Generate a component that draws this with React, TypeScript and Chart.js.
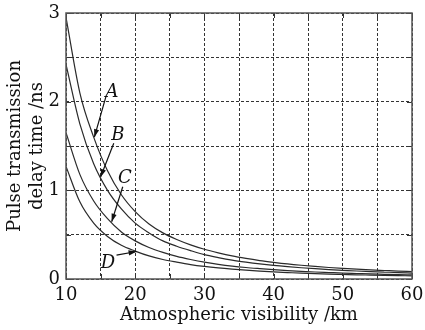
import React, { useEffect, useRef } from 'react';
import { Chart, registerables } from 'chart.js';
Chart.register(...registerables);

const visibility = [10, 12, 14, 16, 18, 20, 22, 24, 26, 28, 30, 32, 34, 36, 38, 40, 42, 44, 46, 48, 50, 52, 54, 56, 58, 60];
const curveA = [2.95, 2.10, 1.60, 1.22, 0.95, 0.76, 0.62, 0.52, 0.445, 0.385, 0.335, 0.295, 0.26, 0.232, 0.208, 0.188, 0.17, 0.155, 0.142, 0.13, 0.12, 0.111, 0.103, 0.096, 0.089, 0.083];
const curveB = [2.42, 1.75, 1.30, 1.00, 0.79, 0.63, 0.52, 0.43, 0.37, 0.32, 0.275, 0.242, 0.213, 0.19, 0.17, 0.153, 0.139, 0.127, 0.116, 0.106, 0.098, 0.09, 0.084, 0.078, 0.072, 0.067];
const curveC = [1.65, 1.18, 0.88, 0.68, 0.53, 0.43, 0.355, 0.30, 0.255, 0.22, 0.19, 0.166, 0.146, 0.13, 0.117, 0.105, 0.095, 0.087, 0.079, 0.073, 0.067, 0.062, 0.057, 0.053, 0.049, 0.046];
const curveD = [1.27, 0.87, 0.63, 0.48, 0.38, 0.315, 0.26, 0.22, 0.19, 0.163, 0.142, 0.125, 0.111, 0.099, 0.089, 0.08, 0.073, 0.066, 0.06, 0.055, 0.051, 0.047, 0.044, 0.041, 0.038, 0.035];

const curveNames = ['A', 'B', 'C', 'D'];
const labelAt = [[16.65, 2.11], [17.5, 1.62], [18.5, 1.14], [16.07, 0.18]];
const arrowFrom = [[15.78, 2.06], [16.9, 1.53], [18.2, 1.04], [17.3, 0.27]];
const arrowTo = [[14.1, 1.6], [15.0, 1.15], [16.6, 0.646], [20.2, 0.31]];

const xTickLabels = [10, 20, 30, 40, 50, 60];
const yTickLabels = [0, 1, 2, 3];

const FONT = '"DejaVu Serif", serif';

const framePlugin = {
  id: 'frameAndNotes',
  afterDraw(chart: any) {
    const { ctx, chartArea: a, scales } = chart;
    const xs = scales.x;
    const ys = scales.y;
    ctx.save();
    ctx.strokeStyle = '#333';
    ctx.lineWidth = 1;
    ctx.setLineDash([]);
    for (let v = 10; v <= 60; v += 5) {
      const px = Math.round(xs.getPixelForValue(v)) + 0.5;
      ctx.beginPath();
      ctx.moveTo(px, a.bottom);
      ctx.lineTo(px, a.bottom - 5);
      ctx.moveTo(px, a.top);
      ctx.lineTo(px, a.top + 5);
      ctx.stroke();
    }
    for (let v = 0; v <= 3.001; v += 0.5) {
      const py = Math.round(ys.getPixelForValue(v)) + 0.5;
      ctx.beginPath();
      ctx.moveTo(a.left, py);
      ctx.lineTo(a.left + 5, py);
      ctx.moveTo(a.right, py);
      ctx.lineTo(a.right - 5, py);
      ctx.stroke();
    }
    ctx.strokeStyle = '#555';
    ctx.lineWidth = 1.5;
    ctx.strokeRect(a.left, a.top, a.right - a.left, a.bottom - a.top);

    ctx.fillStyle = '#111';
    ctx.strokeStyle = '#111';
    ctx.lineWidth = 1.2;
    ctx.font = 'italic 18px ' + FONT;
    ctx.textAlign = 'center';
    ctx.textBaseline = 'middle';
    curveNames.forEach((n, i) => {
      const lx = xs.getPixelForValue(labelAt[i][0]);
      const ly = ys.getPixelForValue(labelAt[i][1]);
      ctx.fillText(n, lx, ly);
      const x1 = xs.getPixelForValue(arrowFrom[i][0]);
      const y1 = ys.getPixelForValue(arrowFrom[i][1]);
      const x2 = xs.getPixelForValue(arrowTo[i][0]);
      const y2 = ys.getPixelForValue(arrowTo[i][1]);
      ctx.beginPath();
      ctx.moveTo(x1, y1);
      ctx.lineTo(x2, y2);
      ctx.stroke();
      const ang = Math.atan2(y2 - y1, x2 - x1);
      const L = 8, W = 2.6;
      ctx.beginPath();
      ctx.moveTo(x2, y2);
      ctx.lineTo(x2 - L * Math.cos(ang) + W * Math.sin(ang), y2 - L * Math.sin(ang) - W * Math.cos(ang));
      ctx.lineTo(x2 - L * Math.cos(ang) - W * Math.sin(ang), y2 - L * Math.sin(ang) + W * Math.cos(ang));
      ctx.closePath();
      ctx.fill();
    });
    ctx.restore();
  },
};

export default function App() {
  const ref = useRef<HTMLCanvasElement>(null);
  useEffect(() => {
    const series = [curveA, curveB, curveC, curveD];
    const chart = new Chart(ref.current as HTMLCanvasElement, {
      type: 'line',
      data: {
        datasets: series.map((s, i) => ({
          label: curveNames[i],
          data: visibility.map((v, k) => ({ x: v, y: s[k] })),
          borderColor: '#2a2a2a',
          borderWidth: 1.2,
          pointRadius: 0,
          tension: 0.4,
          cubicInterpolationMode: 'monotone' as const,
          fill: false,
        })),
      },
      options: {
        animation: false,
        responsive: false,
        maintainAspectRatio: false,
        layout: { padding: { top: 13, right: 13, left: 0, bottom: 0 } },
        plugins: { legend: { display: false }, tooltip: { enabled: false } },
        scales: {
          x: {
            type: 'linear',
            min: 10,
            max: 60,
            afterFit: (s: any) => { s.height = 51; s.paddingLeft = 0; s.paddingRight = 0; },
            ticks: {
              stepSize: 5,
              autoSkip: false,
              maxRotation: 0,
              padding: 6,
              color: '#111',
              font: { family: FONT, size: 18 },
              callback: (v: any) => (xTickLabels.includes(Number(v)) ? String(v) : ''),
            },
            grid: { color: '#333', lineWidth: 1, drawTicks: false },
            border: { display: false, dash: [3, 2] },
            title: {
              display: true,
              text: 'Atmospheric visibility /km',
              color: '#111',
              font: { family: FONT, size: 18, lineHeight: 1 },
              padding: { top: 0, bottom: 6 },
            },
          },
          y: {
            type: 'linear',
            min: 0,
            max: 3,
            afterFit: (s: any) => { s.width = 66; s.paddingTop = 0; s.paddingBottom = 0; },
            ticks: {
              stepSize: 0.5,
              autoSkip: false,
              padding: 6,
              color: '#111',
              font: { family: FONT, size: 18 },
              callback: (v: any) => (yTickLabels.includes(Number(v)) ? String(v) : ''),
            },
            grid: { color: '#333', lineWidth: 1, drawTicks: false },
            border: { display: false, dash: [3, 2] },
            title: {
              display: true,
              text: ['Pulse transmission', 'delay time /ns'],
              color: '#111',
              font: { family: FONT, size: 18, lineHeight: 1.25 },
              padding: { top: 4, bottom: 0 },
            },
          },
        },
      },
      plugins: [framePlugin],
    });
    return () => chart.destroy();
  }, []);
  return (
    <div style={{ position: 'fixed', left: 0, top: 0, width: 425, height: 330, background: '#fff' }}>
      <canvas ref={ref} width={425} height={330} style={{ display: 'block' }} />
    </div>
  );
}
